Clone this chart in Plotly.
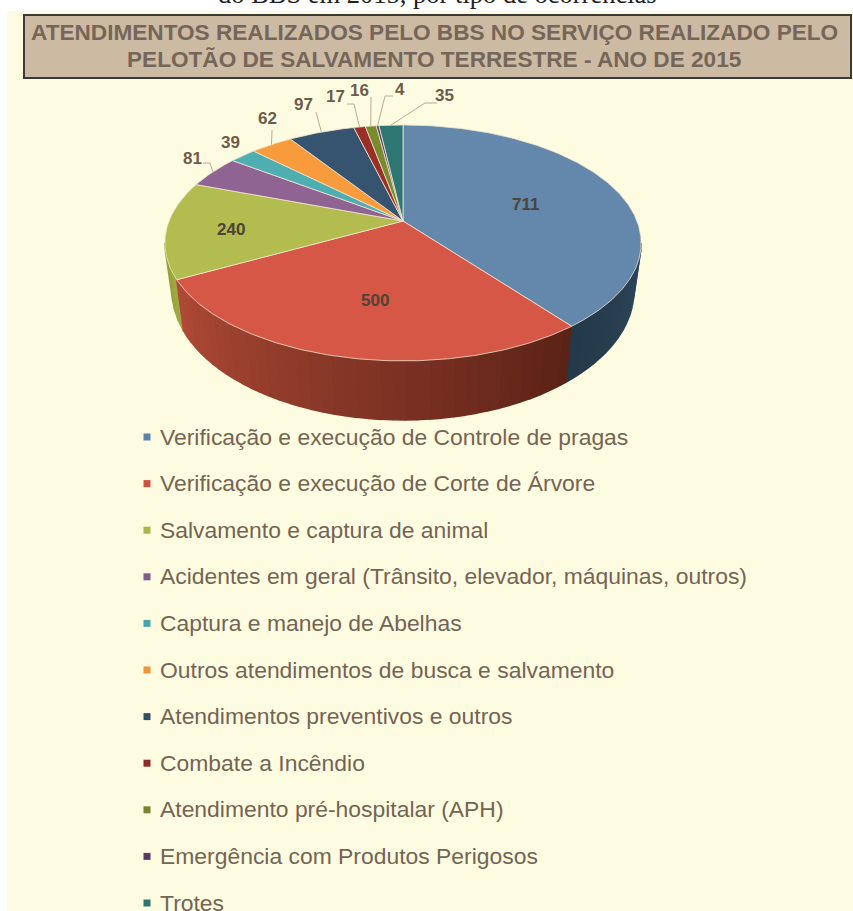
import numpy as np
import plotly.graph_objects as go

categories = ["Verificação e execução de Controle de pragas", "Verificação e execução de Corte de Árvore",
              "Salvamento e captura de animal", "Acidentes em geral (Trânsito, elevador, máquinas, outros)",
              "Captura e manejo de Abelhas", "Outros atendimentos de busca e salvamento",
              "Atendimentos preventivos e outros", "Combate a Incêndio", "Atendimento pré-hospitalar (APH)",
              "Emergência com Produtos Perigosos", "Trotes"]
values = [711, 500, 240, 81, 39, 62, 97, 17, 16, 4, 35]
top_colors = ["#6388AB", "#D65745", "#B3BC4E", "#8F6492", "#4FAEB2", "#F79B3C", "#36546F", "#9A2F28", "#7A8B2E", "#5D3E6B", "#2D7672"]
legend_colors = ["#5B82A8", "#CF5241", "#AAB54A", "#855B8C", "#4AA5AA", "#F0933A", "#33506B", "#8F2B25", "#77862E", "#573B63", "#2E7470"]
title_lines = ["ATENDIMENTOS REALIZADOS PELO BBS NO SERVIÇO REALIZADO PELO", "PELOTÃO DE SALVAMENTO TERRESTRE - ANO DE 2015"]
caption = "do BBS em 2015, por tipo de ocorrências"

# projection of the tilted disc into the pixel-sized axes
CX, CY, A, B, K = 403, 221, 234, 113.9, 0.186
A2, B2, Y2 = 227, 125, 266.4
TXT = "#746455"
NARROW = "Liberation Sans Narrow"


def top(t):
    u, v = np.sin(t), np.cos(t)
    d = 1 + K * v
    return CX + A * u / d, CY - B * v / d


def bottom(t):
    u, v = np.sin(t), np.cos(t)
    d = 1 + K * v
    return CX + A2 * u / d, Y2 - B2 * v / d


fig = go.Figure()
edges = np.concatenate([[0], np.cumsum(values)]) / sum(values) * 2 * np.pi
T_R = np.pi / 2 + np.arcsin(K)
T_L = 3 * np.pi / 2 - np.arcsin(K)


def lerp(c1, c2, f):
    return "rgb(%d,%d,%d)" % tuple(round(a + (b - a) * f) for a, b in zip(c1, c2))


def side(t0, t1, c1, c2, n):
    g = np.linspace(t0, t1, n + 1)
    for i in range(n):
        tt = np.linspace(g[i], g[i + 1], 6)
        xa, ya = top(tt)
        xb, yb = bottom(tt[::-1])
        col = lerp(c1, c2, (i + .5) / n)
        fig.add_trace(go.Scatter(x=np.r_[xa, xb], y=np.r_[ya, yb], mode="lines", fill="toself", fillcolor=col,
                                 line=dict(color=col, width=1.5), hoverinfo="skip", showlegend=False))


side(T_R, edges[1], (46, 72, 92), (36, 56, 72), 12)
side(edges[2], T_L, (160, 170, 66), (150, 160, 60), 4)
side(edges[1], edges[2], (90, 34, 22), (176, 74, 54), 40)

for i, (cat, val) in enumerate(zip(categories, values)):
    tt = np.linspace(edges[i], edges[i + 1], max(int(val / 3), 4))
    xa, ya = top(tt)
    fig.add_trace(go.Scatter(x=np.r_[CX, xa, CX], y=np.r_[CY, ya, CY], mode="lines", fill="toself",
                             fillcolor=top_colors[i], line=dict(color="#F0E4D0", width=0.8),
                             name=cat, text=f"{cat}: {val}", hoverinfo="text", hoveron="fills", showlegend=False))

# leader lines and value labels
label_pos = {3: (192, 158), 4: (230, 142), 5: (267, 118), 6: (303, 104), 7: (335, 96), 8: (359, 90), 9: (400, 89), 10: (444, 95)}
elbows = {3: [(203, 163), (210, 163)], 5: [(272, 130)], 6: [(316, 112)], 7: [(347, 104), (354, 104)],
          8: [(371, 97)], 9: [(393, 96), (385, 96)], 10: [(437, 103), (425, 103)]}
mids = (edges[:-1] + edges[1:]) / 2
for i, pts in elbows.items():
    mx, my = top(mids[i])
    fig.add_trace(go.Scatter(x=[p[0] for p in pts] + [mx], y=[p[1] for p in pts] + [my], mode="lines",
                             line=dict(color="#BCA995", width=1), hoverinfo="skip", showlegend=False))

fig.add_trace(go.Scatter(x=[147] * len(categories), y=[437 + 46.6 * i for i in range(len(categories))], mode="markers",
                         marker=dict(symbol="square", size=7, color=legend_colors), text=categories, hoverinfo="text", showlegend=False))

ann = []
for i, cat in enumerate(categories):
    ann.append(dict(x=157.5, y=436.5 + 46.6 * i, text=cat, xanchor="left", yanchor="middle", showarrow=False,
                    font=dict(family="Liberation Sans", size=22.9, color=TXT)))
for i, p in label_pos.items():
    ann.append(dict(x=p[0], y=p[1], text=f"<b>{values[i]}</b>", showarrow=False, font=dict(family=NARROW + ", Liberation Sans", size=17, color="#6B5C4C")))
for i, p in {0: (525, 204), 1: (375, 300), 2: (231, 229)}.items():
    ann.append(dict(x=p[0], y=p[1], text=f"<b>{values[i]}</b>", showarrow=False, font=dict(family=NARROW + ", Liberation Sans", size=17, color="#4D4338")))
ann.append(dict(x=437, y=11, text=caption, yanchor="bottom", showarrow=False, font=dict(family="Liberation Serif", size=26.5, color="#222222")))
for i, line in enumerate(title_lines):
    ann.append(dict(x=434, y=32 + 27 * i, text=f"<b>{line}</b>", showarrow=False, font=dict(family="Liberation Sans", size=22.6, color="#75665A")))

shapes = [
    dict(type="rect", layer="below", x0=7, x1=853, y0=11, y1=911, fillcolor="#FEFCE0", line=dict(width=0)),
    dict(type="rect", layer="below", x0=24, x1=851, y0=15, y1=78, fillcolor="#CDBAA3", line=dict(color="#3A3A38", width=2)),
]

fig.update_layout(width=853, height=911, margin=dict(l=0, r=0, t=0, b=0), paper_bgcolor="white", plot_bgcolor="white",
                  xaxis=dict(range=[0, 853], visible=False, fixedrange=True),
                  yaxis=dict(range=[911, 0], visible=False, fixedrange=True),
                  showlegend=False, annotations=ann, shapes=shapes)
fig.write_html("out.html", config=dict(displayModeBar=False),
               post_script="document.body.style.margin='0';document.body.style.overflow='hidden';")
